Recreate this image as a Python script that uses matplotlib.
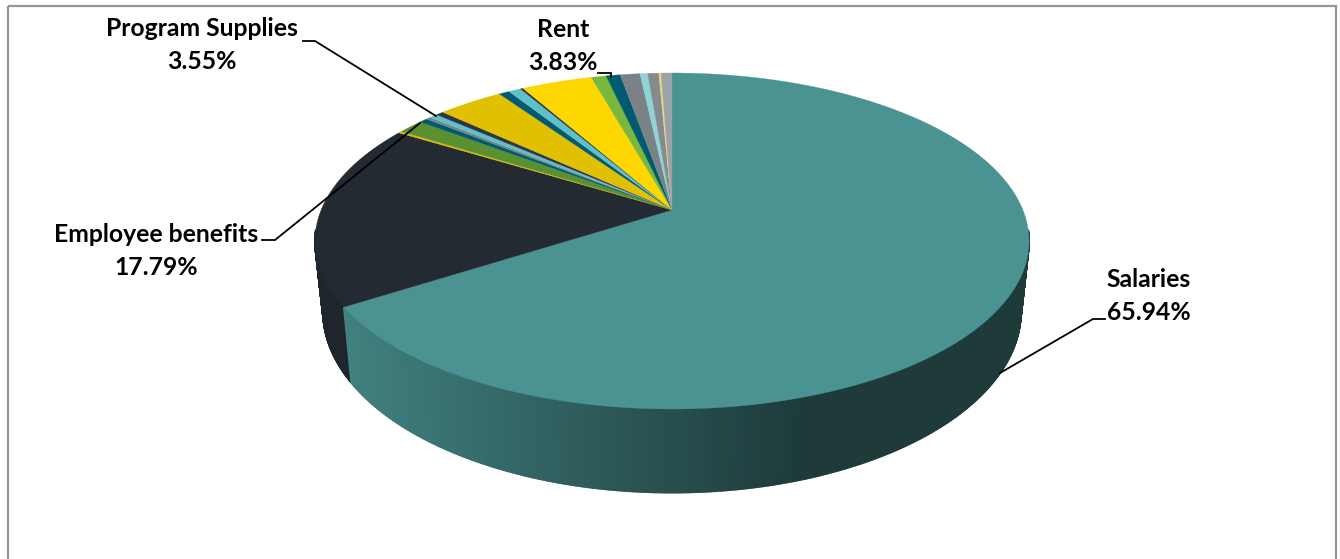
"""Expense breakdown drawn as a tilted 3D pie with a perspective projection."""

import matplotlib

matplotlib.use("Agg")
import matplotlib.pyplot as plt
import numpy as np
from matplotlib.patches import Polygon, Rectangle

# expense shares in percent, clockwise from twelve o'clock
shares = [
    65.94, 17.79, 0.18, 1.40, 0.44, 0.25, 0.44, 0.42, 3.55, 0.57, 0.67, 0.15,
    3.83, 0.81, 0.77, 1.07, 0.41, 0.60, 0.12, 0.59,
]
colors = [
    "#4A9392", "#232A32", "#DDBB00", "#5A9030", "#005A70", "#7A8288", "#5EC0C8", "#2E3640",
    "#E0C000", "#005A70", "#5EC0C8", "#2E3640",
    "#FFD700", "#78B83C", "#005A70", "#7A8288", "#8CD4D8", "#858A8E", "#E8D870", "#9AA2AA",
]
label_names = ["Salaries", "Employee benefits", "Program Supplies", "Rent"]
label_values = ["65.94%", "17.79%", "3.55%", "3.83%"]

CX, CY = 672, 210
RX, RY = 350.9, 162.3
PERSP = 0.1845
# lower rim of the cylinder
BOT_CY, BOT_RX, BOT_RY = 278, 343, 175


def project(theta, cy, rx, ry):
    x = np.sin(theta)
    y = -np.cos(theta)
    w = 1 - PERSP * y
    return CX + rx * x / w, cy + ry * y / w


def wall_shade(base, px):
    """Darken a side wall from left to right."""
    t = np.clip((px - 340) / 460, 0, 1)
    f = 0.88 - 0.48 * t
    rgb = np.array(matplotlib.colors.to_rgb(base))
    return tuple(rgb * f)


fig = plt.figure(figsize=(13.4, 5.59), dpi=100)
ax = fig.add_axes([0, 0, 1, 1])
ax.set_xlim(0, 1340)
ax.set_ylim(559, 0)
ax.axis("off")

ax.add_patch(Rectangle((7.5, 5.5), 1328.5, 600, fill=False, ec="#969696", lw=1.6))

edges = np.cumsum([0] + shares) / sum(shares) * 2 * np.pi

# side wall first, back to front; the far side is hidden by the top face
strips = []
for i, col in enumerate(colors):
    n = max(int((edges[i + 1] - edges[i]) * 180), 2)
    t = np.linspace(edges[i], edges[i + 1], n + 1)
    for a, b in zip(t[:-1], t[1:]):
        depth = -np.cos((a + b) / 2)
        if depth > 0.12:
            strips.append((depth, a, b, col))
strips.sort(key=lambda s: s[0])
for _, a, b, col in strips:
    xa, ya = project(a, CY, RX, RY)
    xb, yb = project(b, CY, RX, RY)
    xc, yc = project(b, BOT_CY, BOT_RX, BOT_RY)
    xd, yd = project(a, BOT_CY, BOT_RX, BOT_RY)
    shade = wall_shade(col, (xa + xb) / 2)
    ax.add_patch(Polygon([(xa, ya), (xb, yb), (xc, yc), (xd, yd)], fc=shade, ec=shade, lw=1.2))

# top face
for i, col in enumerate(colors):
    n = max(int((edges[i + 1] - edges[i]) * 180), 2)
    t = np.linspace(edges[i], edges[i + 1], n + 1)
    px, py = project(t, CY, RX, RY)
    pts = [(CX, CY)] + list(zip(px, py))
    ax.add_patch(Polygon(pts, fc=col, ec=col, lw=0.2, zorder=3))

# leader lines
leaders = [
    ([1000, 1093, 1105], [373, 319, 319]),
    ([262, 275, 420], [240, 240, 123]),
    ([303, 315, 436], [41, 41, 116]),
    ([598, 611, 611], [73, 73, 77]),
]
for xs, ys in leaders:
    ax.plot(xs, ys, color="black", lw=1.3, zorder=4, solid_joinstyle="miter")

label_xy = [(1149, 296), (156, 251), (202, 45), (563, 46)]
for (x, y), name, val in zip(label_xy, label_names, label_values):
    ax.text(x, y, f"{name}\n{val}", ha="center", va="center", fontsize=17.8,
            fontweight="bold", family="Lato", color="black", linespacing=1.5, zorder=5)

fig.savefig("out.png", dpi=100)
